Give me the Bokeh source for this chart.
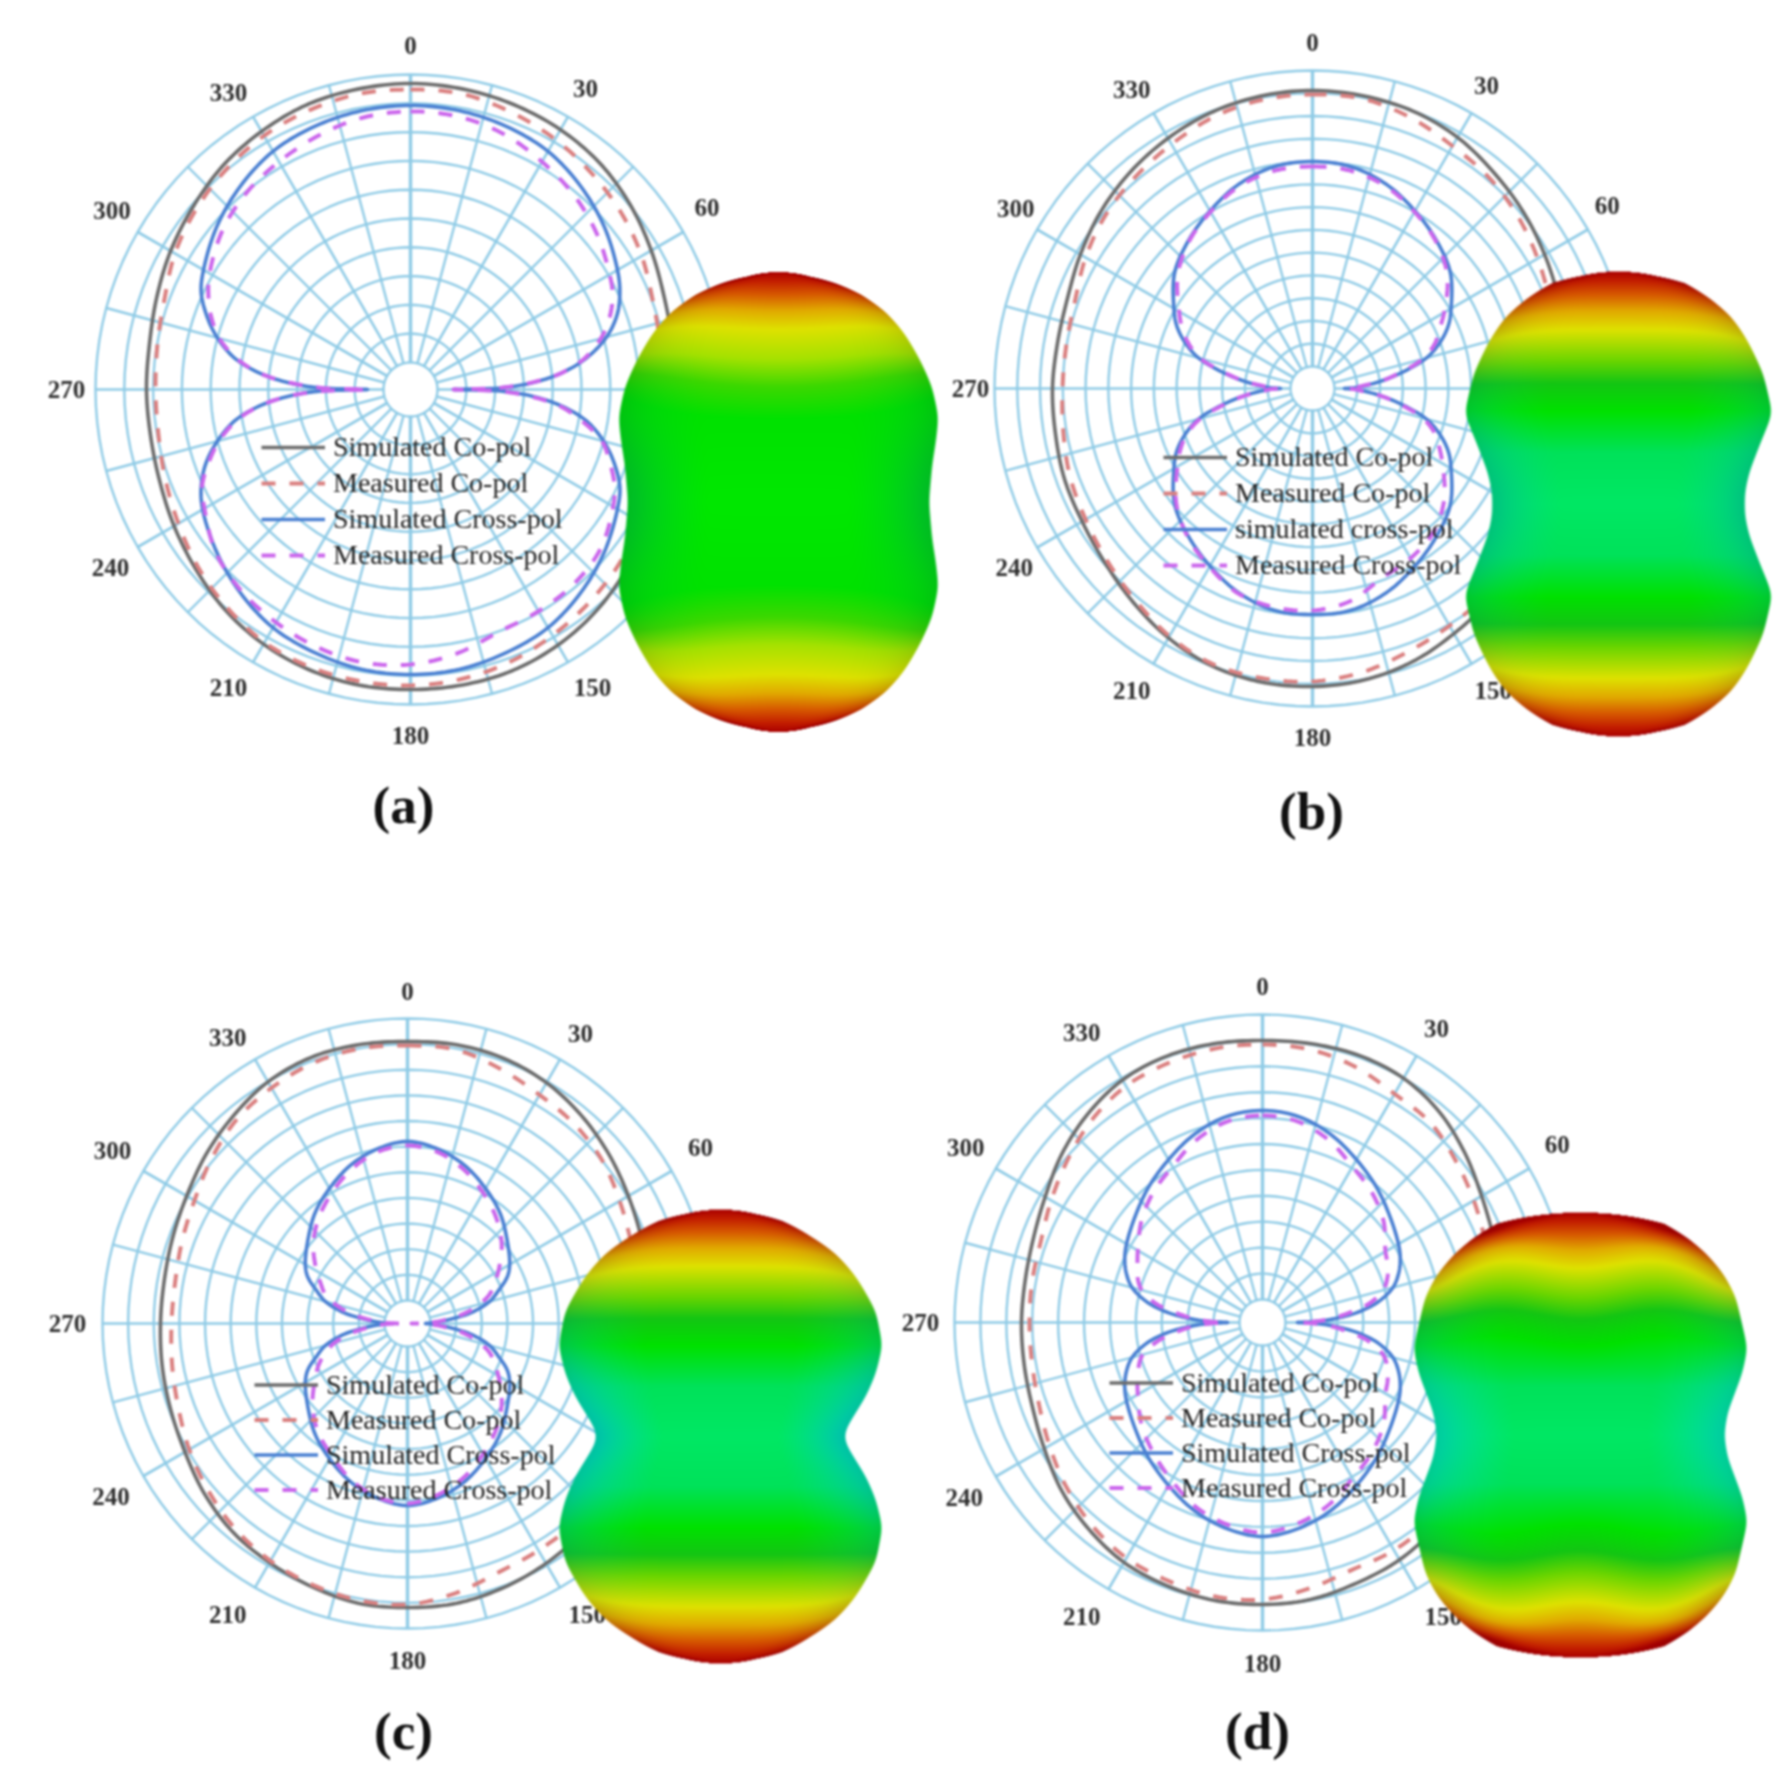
import numpy as np
from bokeh.core.properties import value
from bokeh.embed import file_html
from bokeh.layouts import column, row
from bokeh.models import ColumnDataSource, Legend, LegendItem, Range1d
from bokeh.plotting import figure
from bokeh.resources import INLINE

# ---------- data: radial level (arbitrary units, no radial labels in the chart)
CO_ANGLES = list(range(0, 370, 10))
CROSS_ANGLES = [0, 10, 20, 30, 40, 50, 60, 65, 70, 75, 80, 84, 87, 89, 90,
                91, 93, 96, 100, 105, 110, 115, 120, 130, 140, 150, 160, 170, 180,
                190, 200, 210, 220, 230, 240, 245, 250, 255, 260, 264, 267, 269, 270,
                271, 273, 276, 280, 285, 290, 295, 300, 310, 320, 330, 340, 350, 360]
TICK_ANGLES = [0, 30, 60, 90, 120, 150, 180, 210, 240, 270, 300, 330]
TICK_LABELS = ["0", "30", "60", "90", "120", "150", "180", "210", "240", "270", "300", "330"]
SERIES_NAMES = ["Simulated Co-pol", "Measured Co-pol", "Simulated Cross-pol", "Measured Cross-pol"]
SERIES_NAMES_B = ["Simulated Co-pol", "Measured Co-pol", "simulated cross-pol", "Measured Cross-pol"]

A_CO_SIM = [306,305,303,300,295,287,278,270,266,264,264,266,272,281,289,295,299,300,300,
            300,298,294,288,280,273,267,264,264,265,270,277,284,292,298,303,305,306]
A_CO_MEA = [300,300,295,289,282,275,267,258,254,253,254,258,265,272,278,284,290,294,296,
            296,295,292,285,277,268,261,256,255,257,262,272,280,287,293,297,300,300]
A_CR_SIM = [284,283,280,275,265,253,239,231,220,203,178,150,120,90,43,
            90,120,150,178,200,217,231,239,253,265,275,280,284,285,
            284,280,275,265,253,240,231,218,200,178,150,120,90,43,
            90,120,150,178,200,217,231,239,253,265,275,280,283,284]
A_CR_MEA = [278,277,272,263,254,243,230,223,212,197,176,150,118,88,43,
            88,116,148,172,198,212,225,234,248,254,256,258,268,275,
            277,274,269,263,254,238,230,215,198,176,150,120,88,43,
            88,118,150,176,198,212,223,232,246,256,263,270,276,278]

B_CO_SIM = [298,297,295,290,282,275,268,262,258,258,259,263,266,270,276,283,291,296,298,
            298,295,288,279,271,266,264,261,260,259,261,268,276,283,289,294,297,298]
B_CO_MEA = [294,294,288,280,275,268,260,253,250,249,250,256,260,266,270,274,280,288,293,
            294,293,286,276,268,262,258,253,250,250,253,262,270,276,282,289,293,294]
B_CR_SIM = [227,225,217,205,193,180,160,150,136,118,90,68,52,42,32,
            42,52,68,90,118,136,150,160,180,193,205,217,225,226,
            225,217,205,193,180,160,150,136,118,90,68,52,42,32,
            42,52,68,90,118,136,150,160,180,193,205,217,225,227]
B_CR_MEA = [222,221,215,204,192,176,152,140,130,114,88,68,50,42,34,
            42,50,68,88,114,130,140,150,172,188,196,202,216,222,
            222,218,206,194,178,156,146,134,116,88,68,50,42,34,
            42,50,68,88,116,132,144,154,176,192,204,215,221,222]

C_CO_SIM = [282,283,282,278,271,263,255,249,246,246,247,251,256,264,272,277,281,284,284,
            284,280,276,272,265,257,252,249,247,247,250,255,263,271,279,283,283,282]
C_CO_MEA = [278,278,271,264,260,254,245,238,236,236,237,241,248,256,260,262,265,274,281,
            281,278,274,268,260,252,244,239,236,236,240,246,256,266,272,277,279,278]
C_CR_SIM = [182,177,168,156,144,130,118,110,97,85,66,45,30,22,18,
            22,30,45,66,85,97,110,118,130,144,156,168,177,182,
            177,168,156,144,130,118,110,97,85,66,45,30,22,18,
            22,30,45,66,85,97,110,118,130,144,156,168,177,182]
C_CR_MEA = [178,174,164,151,138,123,105,96,88,75,58,40,28,18,4,
            18,28,40,58,75,88,96,105,123,138,151,164,174,180,
            176,166,152,140,124,106,98,88,76,58,40,28,18,4,
            18,28,40,58,75,88,96,105,123,138,151,164,174,178]

D_CO_SIM = [282,283,284,282,275,264,253,246,242,241,241,243,249,259,268,274,277,281,282,
            282,280,277,270,262,252,245,242,241,241,244,251,262,272,280,283,283,282]
D_CO_MEA = [278,277,272,264,261,252,244,237,233,232,233,236,242,252,260,263,263,270,277,
            278,275,272,265,256,246,238,234,233,234,236,244,254,265,273,276,278,278]
D_CR_SIM = [212,209,200,188,177,166,157,152,145,135,117,95,72,52,35,
            52,72,95,117,135,145,152,157,166,177,188,200,209,214,
            209,200,188,177,166,157,152,145,135,117,95,72,52,35,
            52,72,95,117,135,145,152,157,166,177,188,200,209,212]
D_CR_MEA = [207,204,194,180,170,158,142,138,133,125,108,85,68,52,38,
            52,68,85,108,125,133,138,142,158,170,180,194,204,210,
            205,196,182,170,158,144,138,132,124,106,85,68,52,38,
            52,68,85,108,125,133,138,144,158,170,180,194,204,207]

# ---------- styles
GRID = "#8fcbe6"
SIM_CO, MEA_CO, SIM_CR, MEA_CR = "#6c6c6c", "#da8080", "#4a80d2", "#cb66ec"
SERIF = "Liberation Serif"
BLUR = {"filter": "blur(1.1px)"}
LABEL_NUDGE = {0: 0, 30: 0.2, 60: -1.6, 150: -1.5, 180: 0, 210: 1.5, 240: -.5, 270: 0, 300: 1, 330: -1.5}

YELLOW = (222, 226, 0)
STOPS_A = [(0, (0, 232, 0)), (.36, (0, 226, 0)), (.5, (60, 216, 0)), (.62, (165, 226, 0)),
           (.75, YELLOW), (.83, (225, 170, 0)), (.9, (215, 90, 0)), (.96, (195, 30, 0)), (1, (170, 0, 0))]
STOPS_B = [(0, (0, 232, 100)), (.22, (0, 226, 90)), (.4, (0, 226, 0)), (.52, (20, 198, 20)),
           (.62, (110, 214, 0)), (.75, YELLOW), (.83, (225, 170, 0)), (.9, (215, 90, 0)),
           (.96, (195, 30, 0)), (1, (170, 0, 0))]

# half-width of each solid as a fraction of its greatest half-width, by height fraction
SOLID_A = ([0, .16, .27, .37, .5, .61, .73, .82, .9, .95, .98, 1],
           [.94, .96, .985, 1, .96, .89, .79, .68, .52, .36, .2, 0])
SOLID_B = ([0, .05, .14, .26, .39, .56, .7, .8, .88, .95, .98, 1],
           [.82, .82, .85, .92, 1, .94, .84, .74, .6, .43, .25, 0])
SOLID_C = ([0, .03, .1, .18, .28, .4, .55, .7, .8, .88, .95, .98, 1],
           [.76, .77, .83, .9, .96, 1, .96, .84, .72, .56, .38, .22, 0])
SOLID_D = ([0, .1, .2, .28, .39, .62, .72, .81, .88, .95, .98, 1],
           [.86, .88, .93, .97, 1, .93, .86, .76, .65, .5, .32, 0])


def lerp_colour(t, stops):
    xs = [s[0] for s in stops]
    return np.stack([np.interp(t, xs, [s[1][i] for s in stops]) for i in range(3)], axis=-1)


def smoothstep(a, b, x):
    s = np.clip((x - a) / (b - a), 0, 1)
    return s * s * (3 - 2 * s)


def rounded_profile(profile, sigma, n=2001):
    """Rounds the outline: works on half-width squared so the caps stay dome-like."""
    grid = np.linspace(-1.2, 1.2, n)
    h2 = np.interp(np.abs(grid), profile[0], np.asarray(profile[1]) ** 2, right=0)
    step = grid[1] - grid[0]
    k = np.arange(-int(4 * sigma / step), int(4 * sigma / step) + 1) * step
    kernel = np.exp(-.5 * (k / sigma) ** 2)
    kernel /= kernel.sum()
    soft = np.convolve(h2, kernel, mode="same")
    w = 1 - smoothstep(.78, .9, np.abs(grid))
    return grid, np.sqrt(np.clip(w * soft + (1 - w) * h2, 0, None))


def solid_image(hw, hh, profile, stops, teal, teal_w, warp, wave, edge):
    nx, ny = int(2 * hw), int(2 * hh)
    xs = (np.arange(nx) + .5) / hw - 1
    ys = (np.arange(ny) + .5) / hh - 1
    X, Y = np.meshgrid(xs, ys)
    grid, prof = rounded_profile(profile, .03)
    half = np.maximum(np.interp(Y, grid, prof), 1e-3)
    U = X / half
    aY = np.abs(Y)
    upper = smoothstep(.2, .5, aY)
    t = aY - upper * (warp * X ** 2 + wave * np.sin(np.pi * X) ** 2 * (1 - smoothstep(.8, .95, aY)))
    t = t + smoothstep(.45, .7, aY) * edge * np.clip(np.abs(U), 0, 1) ** 4
    t = np.clip(t, 0, 1)
    rgb = lerp_colour(t, stops)
    e = np.clip((np.abs(U) - .45) / .5, 0, 1) ** 1.3 * np.exp(-(Y / .42) ** 2) * teal_w
    rgb = rgb * (1 - e[..., None]) + np.array(teal) * e[..., None]
    limb = 1 - .10 * np.clip(np.abs(U), 0, 1) ** 6
    rgb = rgb * limb[..., None]
    alpha = np.clip((half - np.abs(X)) * hw + .5, 0, 1)
    img = np.zeros((ny, nx), dtype=np.uint32)
    view = img.view(dtype=np.uint8).reshape((ny, nx, 4))
    view[..., :3] = np.clip(rgb, 0, 255).astype(np.uint8)
    view[..., 3] = (alpha * 255).astype(np.uint8)
    return img


def polar(radii, angles):
    th = np.radians(np.asarray(angles, dtype=float))
    r = np.asarray(radii, dtype=float)
    return r * np.sin(th), r * np.cos(th)


def smooth_path(x, y, per=10):
    """Drawing style only: a centripetal Catmull-Rom line through the read points."""
    P = np.column_stack([x, y])
    P = np.vstack([P[-2], P, P[1]])
    out = []
    for i in range(1, len(P) - 2):
        p0, p1, p2, p3 = P[i - 1], P[i], P[i + 1], P[i + 2]
        t0 = 0.0
        t1 = t0 + max(np.linalg.norm(p1 - p0), 1e-6) ** .5
        t2 = t1 + max(np.linalg.norm(p2 - p1), 1e-6) ** .5
        t3 = t2 + max(np.linalg.norm(p3 - p2), 1e-6) ** .5
        for t in np.linspace(t1, t2, per, endpoint=False):
            a1 = (t1 - t) / (t1 - t0) * p0 + (t - t0) / (t1 - t0) * p1
            a2 = (t2 - t) / (t2 - t1) * p1 + (t - t1) / (t2 - t1) * p2
            a3 = (t3 - t) / (t3 - t2) * p2 + (t - t2) / (t3 - t2) * p3
            b1 = (t2 - t) / (t2 - t0) * a1 + (t - t0) / (t2 - t0) * a2
            b2 = (t3 - t) / (t3 - t1) * a2 + (t - t1) / (t3 - t1) * a3
            out.append((t2 - t) / (t2 - t1) * b1 + (t - t1) / (t2 - t1) * b2)
    out.append(P[-2])
    out = np.array(out)
    return out[:, 0], out[:, 1]


def panel(width, height, ox, oy, cx, cy, outer, hole, steps, series, names, label_rx, label_ry, low_f,
          tag, tag_xy, solid, legend_xy, pitch):
    """ox, oy: offset of this figure in the picture; cx, cy: position of the polar centre."""
    p = figure(width=width, height=height, output_backend="svg", toolbar_location=None,
               min_border=0, x_range=Range1d(ox - cx, ox + width - cx),
               y_range=Range1d(cy - (oy + height), cy - oy), styles=BLUR)
    p.axis.visible = False
    p.grid.visible = False
    p.outline_line_color = None
    p.background_fill_color = "white"

    full = np.arange(0, 361, 3)
    xs, ys = [], []
    for k in range(steps + 1):
        x, y = polar(np.full(full.shape, hole + k * (outer - hole) / steps), full)
        xs.append(x); ys.append(y)
    p.multi_line(xs, ys, line_color=GRID, line_width=2.4)
    xs, ys, ws = [], [], []
    for a in range(0, 360, 15):
        x, y = polar([hole, outer], [a, a])
        xs.append(x); ys.append(y)
        ws.append(3.4 if a % 180 == 0 else 2.6 if a % 30 == 0 else 2.4)
    p.multi_line("xs", "ys", line_width="w", line_color=GRID,
                 source=ColumnDataSource(dict(xs=xs, ys=ys, w=ws)))

    co_s, co_m, cr_s, cr_m = series
    rs = []
    for vals, ang, col, dash, lw in [(co_s, CO_ANGLES, SIM_CO, "solid", 3.6),
                                     (co_m, CO_ANGLES, MEA_CO, "14 14", 4),
                                     (cr_s, CROSS_ANGLES, SIM_CR, "solid", 3.6),
                                     (cr_m, CROSS_ANGLES, MEA_CR, "14 14", 4)]:
        x, y = polar(vals, ang)
        sx_, sy_ = smooth_path(x, y)
        rs.append(p.line(sx_, sy_, line_color=col, line_dash=dash, line_width=lw, line_join="round"))

    keep = [i for i, a in enumerate(TICK_ANGLES) if a not in (90, 120)]
    lang = np.array([TICK_ANGLES[i] + LABEL_NUDGE[TICK_ANGLES[i]] for i in keep])
    f = np.array([1.0 if TICK_ANGLES[i] % 90 == 0 else 1.012 for i in keep])
    ux, uy = polar(f, lang)
    uy = np.where(uy < 0, uy * low_f, uy)
    p.text(label_rx * ux, label_ry * uy, text=[TICK_LABELS[i] for i in keep], text_font=value(SERIF),
           text_font_style="bold", text_font_size="25px", text_color="#2e2e2e",
           text_align="center", text_baseline="middle")
    p.text([tag_xy[0] - cx], [cy - tag_xy[1]], text=[tag], text_font=value(SERIF),
           text_font_style="bold", text_font_size="53px", text_color="#111111",
           text_align="center", text_baseline="middle")

    sx, sy, hw, hh, profile, stops, teal, teal_w, warp, wave, edge = solid
    img = solid_image(hw, hh, profile, stops, teal, teal_w, warp, wave, edge)
    p.image_rgba(image=[img], x=sx - hw - cx, y=cy - sy - hh, dw=2 * hw, dh=2 * hh)

    leg = Legend(items=[LegendItem(label=n, renderers=[r]) for n, r in zip(names, rs)],
                 location=(int(legend_xy[0] - ox), int(oy + height - legend_xy[1] - 4 * pitch)),
                 background_fill_alpha=0, border_line_alpha=0, margin=0, padding=0, spacing=0,
                 glyph_width=64, glyph_height=pitch, label_height=pitch, label_standoff=8,
                 label_text_font=SERIF, label_text_font_size="28px", label_text_color="#222222",
                 label_text_baseline="middle")
    p.add_layout(leg, "center")
    return p


pa = panel(945, 900, 0, 0, 410, 389, 315, 27, 10, [A_CO_SIM, A_CO_MEA, A_CR_SIM, A_CR_MEA], SERIES_NAMES,
           344, 344, 1.005, "(a)", (403, 804),
           (778, 501.5, 160, 230, SOLID_A, STOPS_A, (0, 190, 70), .55, .1, 0, .06), (261, 429), 36)
pb = panel(831, 900, 945, 0, 1312, 388, 318, 22, 13, [B_CO_SIM, B_CO_MEA, B_CR_SIM, B_CR_MEA], SERIES_NAMES_B,
           342, 346, 1.01, "(b)", (1311, 810),
           (1618, 503.5, 154, 232.5, SOLID_B, STOPS_B, (0, 215, 140), .9, 0, 0, .05), (1163, 439), 36)
pc = panel(895, 872, 0, 900, 407, 1323, 305, 23, 11, [C_CO_SIM, C_CO_MEA, C_CR_SIM, C_CR_MEA], SERIES_NAMES,
           340, 332, 1.015, "(c)", (403, 1730),
           (720, 1436, 162, 227, SOLID_C, STOPS_B, (0, 215, 180), 1, 0, 0, .05), (254, 1367), 35)
pd_ = panel(881, 872, 895, 900, 1262, 1322, 308, 23, 11, [D_CO_SIM, D_CO_MEA, D_CR_SIM, D_CR_MEA], SERIES_NAMES,
            342, 336, 1.015, "(d)", (1257, 1730),
            (1580, 1434.5, 167, 222.5, SOLID_D, STOPS_B, (0, 225, 190), .8, 0, .045, .12), (1109, 1365), 35)

layout = column(row(pa, pb, spacing=0), row(pc, pd_, spacing=0), spacing=0)
open("out.html", "w").write(file_html(layout, INLINE))
